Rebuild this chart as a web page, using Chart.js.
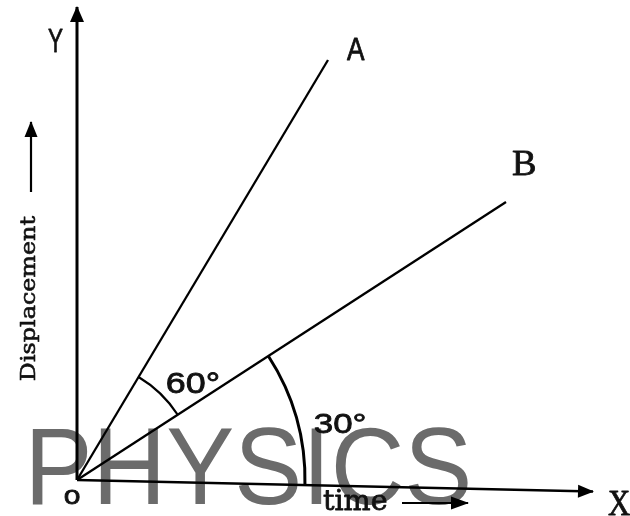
<!DOCTYPE html>
<html><head><meta charset="utf-8">
<script src="https://cdn.jsdelivr.net/npm/chart.js@4/dist/chart.umd.min.js"></script>
<style>html,body{margin:0;padding:0;background:#fff;overflow:hidden}</style>
</head><body>
<canvas id="c" width="630" height="516"></canvas>
<script>
// ---- data ----
const seriesNames = ['A', 'B'];
const timeA = [0, 251];
const dispA = [0, 420];
const timeB = [0, 429];
const dispB = [0, 278];
const xAxisTime = [0, 516];
const xAxisDisp = [0, -11.5];
const yAxisTime = [0, 0];
const yAxisDisp = [0, 473];
const dispArrowTime = [-46, -46];
const dispArrowDisp = [288, 358];
const timeArrowTime = [325, 391];
const timeArrowDisp = [-23, -23];
const angleLabels = ['60°', '30°'];
const axisNames = ['X', 'Y'];
const axisTitles = ['time', 'Displacement'];
const originLabel = 'o';
const watermark = 'PHYSICS';

const pts = (xs, ys) => xs.map((x, i) => ({x, y: ys[i]}));

function fitText(ctx, text, font, x0, x1, base, color, stroke) {
  ctx.save();
  ctx.font = font;
  ctx.textAlign = 'left';
  ctx.textBaseline = 'alphabetic';
  const m = ctx.measureText(text);
  const w = m.actualBoundingBoxLeft + m.actualBoundingBoxRight;
  const s = (x1 - x0) / w;
  ctx.translate(x0, base);
  ctx.scale(s, 1);
  ctx.fillStyle = color;
  ctx.fillText(text, m.actualBoundingBoxLeft, 0);
  if (stroke) {
    ctx.lineWidth = stroke;
    ctx.strokeStyle = color;
    ctx.lineJoin = 'round';
    ctx.strokeText(text, m.actualBoundingBoxLeft, 0);
  }
  ctx.restore();
}

const labelSpecs = [
  {text: axisNames[1], font: '33px "Liberation Sans"', x0: -29, x1: -14, y: 428},
  {text: seriesNames[0], font: '32px "Liberation Sans"', x0: 270, x1: 288, y: 420},
  {text: seriesNames[1], font: '35px "Liberation Serif"', x0: 436, x1: 458, y: 305},
  {text: axisNames[0], font: '35px "Liberation Serif"', x0: 531, x1: 553, y: -35},
  {text: originLabel, font: '26px "Liberation Sans"', x0: -12, x1: 3, y: -24},
  {text: angleLabels[0], font: '29px "Liberation Sans"', x0: 90, x1: 141, y: 87},
  {text: angleLabels[1], font: '28px "Liberation Sans"', x0: 238, x1: 288, y: 47},
  {text: axisTitles[0], font: '28px "DejaVu Serif"', x0: 246, x1: 310, y: -30}
];

const diagramPlugin = {
  id: 'diagram',
  beforeDatasetsDraw(chart) {
    const {ctx, scales: {x, y}} = chart;
    fitText(ctx, watermark, '109px "Liberation Sans"',
      x.getPixelForValue(-45), x.getPixelForValue(391), y.getPixelForValue(-24), '#6b6b6b');
  },
  afterDatasetsDraw(chart) {
    const {ctx, scales: {x, y}} = chart;
    // arrowheads
    chart.data.datasets.forEach(ds => {
      if (!ds.arrow) return;
      const d = ds.data, n = d.length;
      const px = x.getPixelForValue(d[n - 1].x), py = y.getPixelForValue(d[n - 1].y);
      const qx = x.getPixelForValue(d[n - 2].x), qy = y.getPixelForValue(d[n - 2].y);
      const ang = Math.atan2(py - qy, px - qx);
      const L = ds.arrow.len, W = ds.arrow.wid;
      ctx.save();
      ctx.translate(px, py);
      ctx.rotate(ang);
      ctx.beginPath();
      ctx.moveTo(1, 0);
      ctx.lineTo(-L, -W / 2);
      ctx.lineTo(-L, W / 2);
      ctx.closePath();
      ctx.fillStyle = '#000';
      ctx.fill();
      ctx.restore();
    });
    // angle arcs
    const ox = x.getPixelForValue(0), oy = y.getPixelForValue(0);
    const dirAng = (t, d) => Math.atan2(y.getPixelForValue(d) - oy, x.getPixelForValue(t) - ox);
    const aA = dirAng(timeA[1], dispA[1]);
    const aB = dirAng(timeB[1], dispB[1]);
    const aX = dirAng(xAxisTime[1], xAxisDisp[1]);
    const arcs = [
      {r: 120, a0: aA, a1: aB, w: 2.2},
      {r: 228, a0: aB, a1: aX, w: 3}
    ];
    arcs.forEach(a => {
      const r = x.getPixelForValue(a.r) - x.getPixelForValue(0);
      ctx.save();
      ctx.beginPath();
      ctx.arc(ox, oy, r, a.a0, a.a1);
      ctx.lineWidth = a.w;
      ctx.strokeStyle = '#000';
      ctx.stroke();
      ctx.restore();
    });
    // labels
    labelSpecs.forEach(l => {
      fitText(ctx, l.text, l.font, x.getPixelForValue(l.x0), x.getPixelForValue(l.x1),
        y.getPixelForValue(l.y), '#111', 0.8);
    });
    // rotated axis title
    const bx = x.getPixelForValue(-42);
    const yStart = y.getPixelForValue(100), yEnd = y.getPixelForValue(264);
    ctx.save();
    ctx.translate(bx, yStart);
    ctx.rotate(-Math.PI / 2);
    fitText(ctx, axisTitles[1], '20px "DejaVu Serif"', 0, yStart - yEnd, 0, '#111', 0.6);
    ctx.restore();
  }
};

const lineDs = (xs, ys, w, arrow) => ({
  data: pts(xs, ys), showLine: true, borderColor: '#000', borderWidth: w,
  pointRadius: 0, pointHoverRadius: 0, fill: false, tension: 0, arrow
});

new Chart(document.getElementById('c'), {
  type: 'scatter',
  data: {
    datasets: [
      lineDs(xAxisTime, xAxisDisp, 2.5, {len: 15, wid: 13}),
      lineDs(yAxisTime, yAxisDisp, 3, {len: 15, wid: 14}),
      lineDs(timeA, dispA, 2.3, null),
      lineDs(timeB, dispB, 2.3, null),
      lineDs(dispArrowTime, dispArrowDisp, 2.2, {len: 15, wid: 13}),
      lineDs(timeArrowTime, timeArrowDisp, 2.2, {len: 17, wid: 13})
    ]
  },
  options: {
    responsive: false,
    animation: false,
    events: [],
    layout: {padding: 0},
    plugins: {legend: {display: false}, tooltip: {enabled: false}},
    scales: {
      x: {type: 'linear', min: -77, max: 553, display: false},
      y: {type: 'linear', min: -36, max: 480, display: false}
    }
  },
  plugins: [diagramPlugin]
});
</script>
</body></html>
